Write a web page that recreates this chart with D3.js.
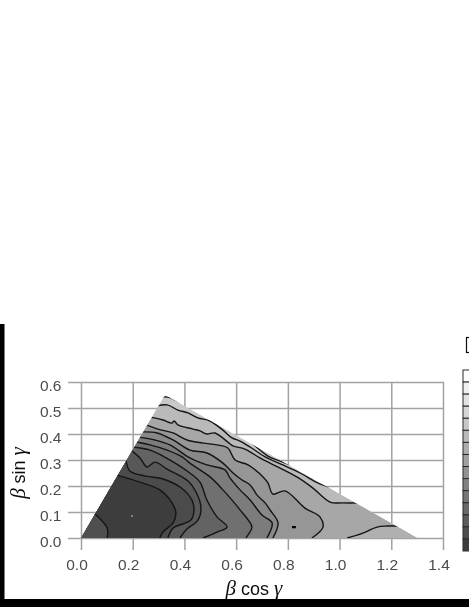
<!DOCTYPE html>
<html><head><meta charset="utf-8">
<script src="https://cdn.jsdelivr.net/npm/d3@7"></script>
<style>html,body{margin:0;padding:0;background:#fff;overflow:hidden}svg{display:block}</style>
</head><body><svg id="c" width="469" height="607"></svg>
<script>
const xTicks=[0,0.2,0.4,0.6,0.8,1.0,1.2,1.4];
const yTicks=[0,0.1,0.2,0.3,0.4,0.5,0.6];
const triangle=[[0,0],[0.325,0.55],[1.3,0]];
const c1=[[.313,.542],[.336,.542],[.383,.523],[.406,.519]];
const c2=[[.294,.508],[.333,.512],[.375,.492],[.414,.481],[.452,.462],[.499,.450],[.549,.415],[.584,.385],[.615,.373],[.654,.350],[.712,.312],[.781,.281],[.847,.250],[.924,.208],[.994,.185]];
const c3=[[.267,.465],[.317,.454],[.352,.442],[.360,.450],[.375,.435],[.433,.419],[.460,.412],[.487,.400],[.518,.404],[.568,.369],[.588,.354],[.634,.342],[.692,.308],[.731,.288],[.770,.269],[.835,.235],[.897,.192],[.963,.138],[1.013,.135],[1.079,.135]];
const c4=[[.251,.435],[.298,.419],[.356,.404],[.410,.377],[.472,.365],[.526,.358],[.568,.346],[.596,.300],[.646,.281],[.704,.235],[.723,.212],[.742,.169],[.789,.181],[.866,.115],[.924,.081],[.936,.042],[.893,0]];
const c5=[[.236,.408],[.294,.404],[.356,.377],[.421,.338],[.487,.327],[.549,.288],[.588,.250],[.623,.223],[.654,.204],[.681,.165],[.712,.135],[.731,.108],[.762,.058],[.742,0]];
const c6=[[.224,.388],[.286,.377],[.344,.358],[.421,.308],[.487,.281],[.557,.262],[.576,.231],[.615,.185],[.654,.146],[.700,.088],[.739,.058],[.719,0]];
const c7=[[.213,.369],[.267,.358],[.333,.338],[.391,.312],[.421,.288],[.499,.235],[.549,.185],[.615,.108],[.661,.042],[.646,.012],[.638,0]];
const c8=[[.201,.350],[.267,.338],[.317,.315],[.421,.250],[.460,.215],[.487,.146],[.526,.081],[.565,.042],[.526,.023],[.472,0]];
const c9=[[.193,.338],[.228,.308],[.255,.273],[.286,.292],[.333,.265],[.414,.219],[.445,.177],[.464,.115],[.452,.069],[.406,.031],[.383,0]];
const c10=[[.174,.300],[.189,.258],[.251,.238],[.317,.227],[.383,.196],[.429,.146],[.437,.108],[.425,.069],[.356,.038],[.336,0]];
const c11=[[.139,.242],[.228,.215],[.305,.185],[.352,.135],[.367,.096],[.356,.058],[.317,.023],[.305,0]];
const cornerLeft=[[.050,.096],[.101,.038],[.101,0]];
const cornerRight=[[1.029,0],[1.090,.019],[1.145,.042],[1.183,.046],[1.230,.046]];
const shortHyp=[[.661,.365],[.723,.315],[.770,.296],[.828,.273],[.882,.246]];
const island=[[.816,.042],[.831,.042]];
const palePoint=[.197,.085];
const baseGray=214;
const hypContours=[c1,c2,c3];
const hypGrays=[200,186,167];
const originContours=[c4,c5,c6,c7,c8,c9,c10,c11];
const originGrays=[150,136,124,112,100,88,76,60];
const cornerLeftGray=80;
const cornerRightGray=176;
const legendGrays=[255,240,226,213,200,186,172,160,145,130,118,105,92,78,62];

const svg=d3.select("#c");
const x=d3.scaleLinear().domain([0,1.4]).range([81,443]);
const y=d3.scaleLinear().domain([0,0.6]).range([538,382]);
const g=v=>d3.rgb(v,v,v).formatHex();
const line=d3.line().x(d=>x(d[0])).y(d=>y(d[1]));
const curve=d3.line().x(d=>x(d[0])).y(d=>y(d[1])).curve(d3.curveCatmullRom.alpha(0.5));
const closeTo=(d,tail)=>curve(d)+tail.map(p=>"L"+x(p[0])+","+y(p[1])).join("")+"Z";
const defs=svg.append("defs");
const fb=defs.append("filter").attr("id","soft").attr("x","-5%").attr("y","-5%").attr("width","110%").attr("height","110%");
fb.append("feGaussianBlur").attr("stdDeviation",0.5);
const ft=defs.append("filter").attr("id","softT").attr("x","-5%").attr("y","-5%").attr("width","110%").attr("height","110%");
ft.append("feGaussianBlur").attr("stdDeviation",0.35);
defs.append("clipPath").attr("id","tri").append("path").attr("d",line(triangle)+"Z");

// frame remnants
svg.append("rect").attr("x",0).attr("y",324).attr("width",4.5).attr("height",283).attr("fill","#000");
svg.append("rect").attr("x",0).attr("y",599).attr("width",469).attr("height",8).attr("fill","#000");

const root=svg.append("g").attr("filter","url(#soft)");
const grid="#a2a2a2";
const ax=root.append("g").attr("transform","translate(0,382)")
  .call(d3.axisBottom(x).tickValues(xTicks).tickSize(168).tickFormat(d3.format(".1f")));
const ay=root.append("g").attr("transform","translate(444,0)")
  .call(d3.axisLeft(y).tickValues(yTicks).tickSize(376).tickFormat(d3.format(".1f")));
[ax,ay].forEach(a=>{a.select(".domain").remove();
  a.selectAll("line").attr("stroke",grid).attr("stroke-width",1.5);
  a.selectAll("text").remove();});

// bands
const plot=root.append("g").attr("clip-path","url(#tri)");
plot.append("path").attr("d",line(triangle)+"Z").attr("fill",g(baseGray));
plot.selectAll("path.h").data(hypContours).join("path").attr("class","h")
  .attr("d",d=>closeTo(d,[[1.3,0],[0,0]])).attr("fill",(d,i)=>g(hypGrays[i]));
plot.append("path").attr("d",closeTo(cornerRight,[[1.3,0]])).attr("fill",g(cornerRightGray));
plot.selectAll("path.o").data(originContours).join("path").attr("class","o")
  .attr("d",d=>closeTo(d,[[0,0]])).attr("fill",(d,i)=>g(originGrays[i]));
plot.append("path").attr("d",closeTo(cornerLeft,[[0,0]])).attr("fill",g(cornerLeftGray));
// contour strokes
const all=hypContours.concat(originContours,[cornerLeft,cornerRight,shortHyp]);
plot.selectAll("path.l").data(all).join("path").attr("class","l")
  .attr("d",curve).attr("fill","none").attr("stroke","#141414").attr("stroke-width",1.4).attr("stroke-linejoin","round");
plot.append("path").attr("d",line(island)).attr("stroke","#000").attr("stroke-width",2.2).attr("fill","none");
plot.append("circle").attr("cx",x(palePoint[0])).attr("cy",y(palePoint[1])).attr("r",0.9).attr("fill","#a8a8a8");

// legend
const ly=d3.scaleBand().domain(d3.range(legendGrays.length)).range([370,551]);
root.append("g").selectAll("rect").data(legendGrays).join("rect")
  .attr("x",463).attr("width",12).attr("y",(d,i)=>ly(i)).attr("height",ly.bandwidth())
  .attr("fill",d=>g(d)).attr("stroke","#2a2a2a").attr("stroke-width",1);
root.append("rect").attr("x",466.5).attr("y",337.5).attr("width",10).attr("height",15).attr("fill","#fff").attr("stroke","#111").attr("stroke-width",1.2);

// tick labels
const tg=svg.append("g").attr("filter","url(#softT)").attr("font-family","'Liberation Sans',Arial,sans-serif").attr("font-size",15.5).attr("fill","#4c4c4c");
tg.selectAll("text.x").data(xTicks).join("text").attr("class","x").attr("x",d=>x(d)-4).attr("y",570).attr("text-anchor","middle").text(d3.format(".1f"));
tg.selectAll("text.y").data(yTicks).join("text").attr("class","y").attr("x",61.5).attr("y",d=>y(d)+8.5).attr("text-anchor","end").text(d3.format(".1f"));

// axis titles
const lab=svg.append("g").attr("filter","url(#softT)").attr("fill","#111").attr("font-size",18);
function title(t,greek1,word,greek2){
  t.append("tspan").attr("font-family","'Liberation Serif',serif").attr("font-style","italic").attr("font-size",21).text(greek1);
  t.append("tspan").attr("font-family","'Liberation Sans',sans-serif").text(" "+word+" ");
  t.append("tspan").attr("font-family","'Liberation Serif',serif").attr("font-style","italic").attr("font-size",21).text(greek2);
}
title(lab.append("text").attr("x",254).attr("y",595).attr("text-anchor","middle"),"β","cos","γ");
title(lab.append("text").attr("transform","translate(25,473) rotate(-90)").attr("text-anchor","middle"),"β","sin","γ");
</script></body></html>
